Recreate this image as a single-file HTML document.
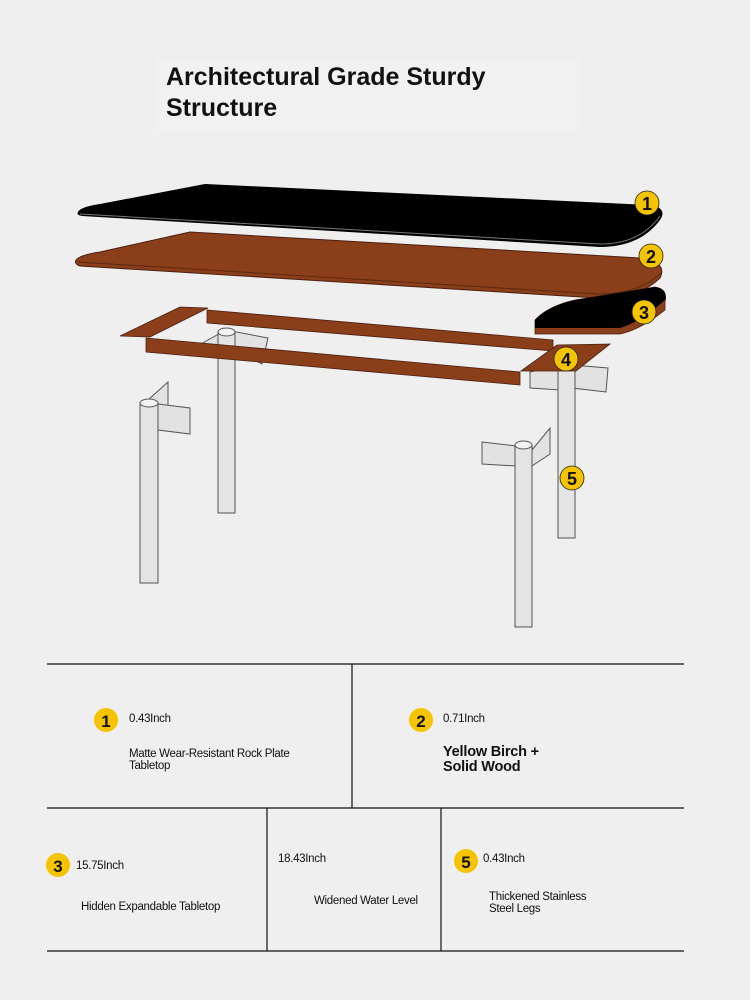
<!DOCTYPE html>
<html><head><meta charset="utf-8"><style>
html,body{margin:0;padding:0;background:#efefef;}
svg{display:block;font-family:"Liberation Sans",sans-serif;}
</style></head><body>
<svg width="750" height="1000" viewBox="0 0 750 1000" xmlns="http://www.w3.org/2000/svg">
<rect width="750" height="1000" fill="#efefef"/>
<rect x="155" y="58" width="425" height="72" fill="#f1f1f1"/>
<text x="166" y="85" font-size="25" font-weight="bold" fill="#111">Architectural Grade Sturdy</text>
<text x="166" y="116" font-size="25" font-weight="bold" fill="#111">Structure</text>

<!-- legs back -->
<g fill="#e2e2e2" stroke="#555" stroke-width="1">
<polygon points="190,350 226,330 268,338 262,364 236,350"/>
<rect x="218" y="332" width="17" height="181" fill="#e4e4e4"/>
<ellipse cx="226.5" cy="332" rx="8.5" ry="4" fill="#f2f2f2"/>
<polygon points="530,372 560,365 560,390 530,388"/>
<polygon points="572,365 608,368 606,392 572,388"/>
<rect x="558" y="368" width="17" height="170" fill="#e4e4e4"/>
</g>
<!-- frame -->
<g fill="#8b3e1a" stroke="#4a2010" stroke-width="0.8">
<polygon points="120,336 180,307 208,308 150,337"/>
<polygon points="207,310 553,340 553,351 207,323"/>
<polygon points="146,338 520,372 520,385 146,352"/>
<polygon points="521,371 557,345 610,344 576,371"/>
</g>
<!-- front legs -->
<g fill="#e2e2e2" stroke="#555" stroke-width="1">
<polygon points="148,400 168,382 168,410 150,412"/>
<polygon points="158,404 190,408 190,434 158,430"/>
<rect x="140" y="403" width="18" height="180" fill="#e4e4e4"/>
<ellipse cx="149" cy="403" rx="9" ry="4" fill="#f2f2f2"/>
<polygon points="482,442 516,446 516,466 482,464"/>
<polygon points="532,450 550,428 550,454 532,466"/>
<rect x="515" y="445" width="17" height="182" fill="#e4e4e4"/>
<ellipse cx="523.5" cy="445" rx="8.5" ry="4" fill="#f2f2f2"/>
</g>
<!-- brown board -->
<path d="M76,260 Q80,255 100,252 L190,232 L640,258 Q668,262 660,278 Q640,298 598,298 L80,266 Q74,264 76,260 Z" fill="#8b3e1a" stroke="#4a2010" stroke-width="1"/>
<path d="M78,262 L598,294 Q640,294 662,272" fill="none" stroke="#5a2a10" stroke-width="1"/>
<!-- black top -->
<path d="M78,212 Q80,207 100,204 L205,184 L650,205 Q668,208 660,220 Q640,247 600,247 L82,216 Q76,215 78,212 Z" fill="#000"/>
<path d="M80,214 L600,244 Q640,244 660,216" fill="none" stroke="#777" stroke-width="1"/>
<!-- piece 3 -->
<path d="M535,320 Q548,306 575,300 L655,287 Q668,289 665,302 L665,310 Q640,330 620,334 L535,334 Z" fill="#8b3e1a" stroke="#4a2010" stroke-width="0.8"/>
<path d="M535,320 Q548,306 575,300 L655,287 Q668,289 665,300 Q640,322 620,328 L535,328 Z" fill="#000"/>
<!-- badges -->
<g stroke="#222" stroke-width="0.8" fill="#f5c400">
<circle cx="647" cy="203" r="12"/><circle cx="651" cy="256" r="12"/><circle cx="644" cy="312" r="12"/><circle cx="566" cy="359" r="12"/><circle cx="572" cy="478" r="12"/>
</g>
<g font-size="18" font-weight="bold" fill="#111" text-anchor="middle">
<text x="647" y="210">1</text><text x="651" y="263">2</text><text x="644" y="319">3</text><text x="566" y="366">4</text><text x="572" y="485">5</text>
</g>

<!-- table lines -->
<g stroke="#111" stroke-width="1.2">
<line x1="47" y1="664" x2="684" y2="664"/>
<line x1="352" y1="664" x2="352" y2="808"/>
<line x1="47" y1="808" x2="684" y2="808"/>
<line x1="267" y1="808" x2="267" y2="951"/>
<line x1="441" y1="808" x2="441" y2="951"/>
<line x1="47" y1="951" x2="684" y2="951"/>
</g>
<g fill="#f5c400"><circle cx="106" cy="720" r="12"/><circle cx="421" cy="720" r="12"/><circle cx="58" cy="865" r="12"/><circle cx="466" cy="861" r="12"/></g>
<g font-size="17" font-weight="bold" fill="#111" text-anchor="middle">
<text x="106" y="727">1</text><text x="421" y="727">2</text><text x="58" y="872">3</text><text x="466" y="868">5</text>
</g>
<g font-size="11.5" fill="#111" letter-spacing="-0.3">
<text x="129" y="722">0.43Inch</text>
<text x="129" y="757">Matte Wear-Resistant Rock Plate</text>
<text x="129" y="769">Tabletop</text>
<text x="443" y="722">0.71Inch</text>
<text x="76" y="869">15.75Inch</text>
<text x="81" y="910">Hidden Expandable Tabletop</text>
<text x="278" y="862">18.43Inch</text>
<text x="314" y="904">Widened Water Level</text>
<text x="483" y="862">0.43Inch</text>
<text x="489" y="900">Thickened Stainless</text>
<text x="489" y="912">Steel Legs</text>
</g>
<g font-size="14.5" font-weight="bold" fill="#111" letter-spacing="-0.2">
<text x="443" y="756">Yellow Birch +</text>
<text x="443" y="771">Solid Wood</text>
</g>
</svg>
</body></html>
